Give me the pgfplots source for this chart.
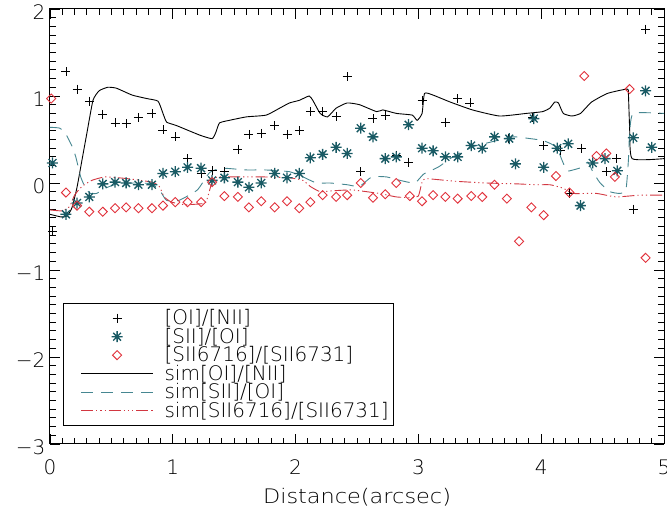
\documentclass[border=0pt]{standalone}
\usepackage{fontspec}
\setmainfont{DejaVu Sans ExtraLight}
\newfontfamily\xlfont{DejaVu Sans ExtraLight}[FakeStretch=1.12]
\usepackage{pgfplots}
\pgfplotsset{compat=1.18}
\definecolor{tealmk}{RGB}{25,90,100}
\definecolor{tealln}{RGB}{70,135,145}
\definecolor{redmk}{RGB}{225,50,60}
\definecolor{redln}{RGB}{210,55,65}
\pgfdeclareplotmark{ast8}{%
  \pgfpathmoveto{\pgfqpoint{0pt}{\pgfplotmarksize}}\pgfpathlineto{\pgfqpoint{0pt}{-\pgfplotmarksize}}%
  \pgfpathmoveto{\pgfqpoint{\pgfplotmarksize}{0pt}}\pgfpathlineto{\pgfqpoint{-\pgfplotmarksize}{0pt}}%
  \pgfpathmoveto{\pgfqpointpolar{45}{\pgfplotmarksize}}\pgfpathlineto{\pgfqpointpolar{225}{\pgfplotmarksize}}%
  \pgfpathmoveto{\pgfqpointpolar{135}{\pgfplotmarksize}}\pgfpathlineto{\pgfqpointpolar{315}{\pgfplotmarksize}}%
  \pgfusepathqstroke}
\pgfplotsset{
  legmark/.style={legend image code/.code={\path (0pt,0pt); \draw[mark repeat=2,mark phase=2,##1] plot coordinates {(12pt,0pt) (48pt,0pt) (84pt,0pt)};}},
  legline/.style={legend image code/.code={\path (0pt,0pt); \draw[##1] (12pt,0pt) -- (84pt,0pt);}},
}
\begin{document}
\begin{tikzpicture}
\begin{axis}[
  scale only axis, width=614pt, height=435pt,
  xmin=0, xmax=5, ymin=-3, ymax=2,
  xtick={0,1,2,3,4,5}, xticklabels={0,1,2,3,4,5},
  ytick={-3,-2,-1,0,1,2}, yticklabels={−3,−2,−1,0,1,2},
  minor x tick num=9, minor y tick num=9,
  tick align=inside, tick pos=both, xticklabel pos=lower, yticklabel pos=left,
  major tick length=10pt, minor tick length=6pt,
  every tick/.style={black, line width=0.9pt},
  axis line style={black, line width=1pt},
  tick label style={font=\fontsize{20}{24}\selectfont},
  xticklabel style={yshift=-12pt},
  yticklabel style={xshift=-1pt, yshift=-3pt},
  xlabel={Distance(arcsec)},
  xlabel style={font=\xlfont\fontsize{20}{24}\selectfont, yshift=-7pt},
  legend style={at={(0.0212,0.3241)}, anchor=north west, draw=black, line width=0.9pt,
    fill=white, inner xsep=5pt, inner ysep=5.5pt, font=\fontsize{20}{24}\selectfont,
    row sep=0pt, nodes={inner sep=0pt, text height=16pt, text depth=2.5pt},
    /tikz/every odd column/.style={column sep=11pt}},
  legend cell align=left,
]
% observed [OI]/[NII]
\addplot[only marks, mark=+, mark size=4.5pt, black, line width=0.75pt, legmark]
coordinates {
(0.02,-0.56) (0.13,1.28) (0.22,1.08) (0.32,0.94) (0.43,0.79) (0.53,0.69) (0.62,0.68)
(0.72,0.75) (0.83,0.80) (0.92,0.61) (1.02,0.53) (1.12,0.28) (1.23,0.11) (1.32,0.14)
(1.42,0.13) (1.53,0.39) (1.62,0.56) (1.72,0.57) (1.83,0.66) (1.93,0.56) (2.03,0.60)
(2.12,0.82) (2.22,0.82) (2.33,0.77) (2.42,1.22) (2.53,0.13) (2.63,0.74) (2.73,0.78)
(2.82,0.32) (2.92,0.24) (3.03,0.95) (3.22,0.70) (3.32,0.97) (3.42,0.92) (3.73,0.51)
(3.93,0.75) (4.02,0.43) (4.16,0.37) (4.23,-0.12) (4.33,0.40) (4.53,0.13) (4.61,0.28)
(4.75,-0.30) (4.85,1.77)
};
\addlegendentry{[OI]/[NII]}
% observed [SII]/[OI]
\addplot[only marks, mark=ast8, mark size=5.5pt, tealmk, line width=1.3pt, legmark]
coordinates {
(0.02,0.23) (0.13,-0.36) (0.22,-0.23) (0.32,-0.16) (0.43,-0.01) (0.53,0.01) (0.62,0.00)
(0.72,-0.02) (0.83,-0.02) (0.92,0.11) (1.02,0.13) (1.12,0.18) (1.23,0.17) (1.32,0.03)
(1.42,0.06) (1.53,0.01) (1.62,-0.05) (1.72,0.00) (1.83,0.11) (1.93,0.06) (2.03,0.11)
(2.12,0.29) (2.22,0.33) (2.33,0.41) (2.42,0.34) (2.53,0.63) (2.63,0.53) (2.73,0.28)
(2.82,0.30) (2.92,0.67) (3.03,0.40) (3.12,0.37) (3.22,0.30) (3.32,0.30) (3.43,0.43)
(3.52,0.40) (3.62,0.53) (3.74,0.51) (3.79,0.22) (3.94,0.74) (4.02,0.18) (4.13,0.40)
(4.22,0.45) (4.32,-0.26) (4.42,0.23) (4.52,0.28) (4.62,0.14) (4.75,0.52) (4.85,1.06)
(4.90,0.41)
};
\addlegendentry{[SII]/[OI]}
% observed [SII6716]/[SII6731]
\addplot[only marks, mark=square, mark size=3.2pt, mark options={rotate=45}, redmk, line width=0.9pt, legmark]
coordinates {
(0.01,0.97) (0.13,-0.11) (0.22,-0.26) (0.32,-0.33) (0.43,-0.33) (0.53,-0.29) (0.62,-0.28)
(0.72,-0.29) (0.83,-0.29) (0.92,-0.26) (1.02,-0.22) (1.12,-0.22) (1.23,-0.22) (1.32,0.01)
(1.42,-0.15) (1.53,-0.16) (1.62,-0.28) (1.72,-0.21) (1.83,-0.28) (1.93,-0.21) (2.03,-0.29)
(2.12,-0.22) (2.22,-0.14) (2.33,-0.16) (2.42,-0.14) (2.53,0.00) (2.63,-0.17) (2.73,-0.13)
(2.82,0.00) (2.93,-0.15) (3.03,-0.21) (3.12,-0.14) (3.22,-0.16) (3.32,-0.18) (3.43,-0.15)
(3.52,-0.16) (3.62,-0.02) (3.72,-0.18) (3.82,-0.67) (3.92,-0.28) (4.02,-0.37) (4.12,0.08)
(4.23,-0.11) (4.35,1.23) (4.45,0.31) (4.53,0.34) (4.60,0.07) (4.72,1.08) (4.85,-0.86)
};
\addlegendentry{[SII6716]/[SII6731]}
% simulated [OI]/[NII]
\addplot[black, line width=0.9pt, smooth, tension=0.3, legline]
coordinates {
(0.00,-0.36) (0.09,-0.39) (0.14,-0.38) (0.18,-0.28) (0.22,-0.05) (0.26,0.26) (0.30,0.57)
(0.35,0.95) (0.40,1.06) (0.47,1.10) (0.54,1.09) (0.67,1.01) (0.79,0.97) (0.88,0.94)
(0.92,0.80) (0.95,0.70) (1.03,0.66) (1.22,0.55) (1.32,0.51) (1.35,0.58) (1.38,0.69)
(1.46,0.72) (1.60,0.76) (1.76,0.78) (1.87,0.86) (1.95,0.92) (2.03,0.95) (2.11,1.00)
(2.14,0.95) (2.20,0.80) (2.26,0.76) (2.33,0.86) (2.42,0.92) (2.52,0.90) (2.66,0.82)
(2.71,0.84) (2.82,0.80) (2.95,0.78) (2.99,0.72) (3.03,0.80) (3.05,1.03) (3.12,1.01)
(3.26,0.93) (3.44,0.84) (3.66,0.77) (3.88,0.80) (4.01,0.82) (4.07,0.86) (4.11,0.93)
(4.14,0.92) (4.18,0.80) (4.25,0.77) (4.32,0.80) (4.41,0.93) (4.54,1.03) (4.70,1.08)
(4.71,1.03) (4.72,0.64) (4.74,0.28) (5.00,0.28)
};
\addlegendentry{sim[OI]/[NII]}
% simulated [SII]/[OI]
\addplot[tealln, line width=0.9pt, dash pattern=on 12pt off 8pt, smooth, tension=0.3, legline]
coordinates {
(0.00,0.64) (0.08,0.63) (0.13,0.56) (0.18,0.42) (0.21,0.30) (0.25,0.07) (0.29,-0.06)
(0.33,-0.12) (0.38,-0.12) (0.45,-0.06) (0.55,-0.01) (0.70,0.00) (0.83,-0.01) (0.90,-0.10)
(0.95,-0.20) (1.05,-0.20) (1.20,-0.08) (1.30,0.12) (1.40,0.17) (1.60,0.15) (1.75,0.15)
(1.95,0.13) (2.06,0.07) (2.17,0.00) (2.28,0.00) (2.42,-0.02) (2.52,-0.04) (2.62,0.07)
(2.74,0.07) (2.85,0.03) (2.97,0.00) (3.04,0.10) (3.10,0.14) (3.17,0.19) (3.28,0.30)
(3.45,0.42) (3.56,0.46) (3.77,0.53) (3.91,0.51) (4.01,0.49) (4.08,0.45) (4.13,0.40)
(4.17,0.26) (4.21,0.14) (4.26,0.15) (4.33,0.18) (4.38,0.24) (4.42,0.13) (4.48,0.00)
(4.56,-0.10) (4.64,-0.12) (4.69,-0.08) (4.71,0.26) (4.72,0.57) (4.75,0.80) (5.00,0.80)
};
\addlegendentry{sim[SII]/[OI]}
% simulated [SII6716]/[SII6731]
\addplot[redln, line width=0.9pt, dash pattern=on 12pt off 3pt on 1.2pt off 3pt on 1.2pt off 3pt on 1.2pt off 3pt, smooth, tension=0.3, legline]
coordinates {
(0.00,-0.31) (0.10,-0.32) (0.16,-0.27) (0.20,-0.14) (0.26,-0.04) (0.34,0.03) (0.45,0.07)
(0.63,0.05) (0.83,0.01) (0.89,-0.04) (0.93,-0.16) (0.99,-0.22) (1.10,-0.25) (1.22,-0.24)
(1.27,-0.22) (1.32,0.01) (1.36,0.07) (1.46,0.07) (1.73,0.07) (1.95,0.06) (2.06,0.03)
(2.12,-0.04) (2.20,-0.10) (2.30,-0.09) (2.46,-0.08) (2.68,-0.12) (2.82,-0.16) (2.95,-0.17)
(3.00,-0.15) (3.03,0.01) (3.06,0.05) (3.30,0.02) (3.55,0.00) (3.80,-0.01) (3.95,-0.02)
(4.07,-0.02) (4.13,-0.04) (4.18,-0.06) (4.26,-0.12) (4.45,-0.12) (4.61,-0.16) (4.80,-0.14)
(5.00,-0.14)
};
\addlegendentry{sim[SII6716]/[SII6731]}
\end{axis}
\pgfresetboundingbox
\path[use as bounding box] ([xshift=-50pt,yshift=-71pt]current axis.south west) rectangle ([xshift=3pt,yshift=9pt]current axis.north east);
\end{tikzpicture}
\end{document}
